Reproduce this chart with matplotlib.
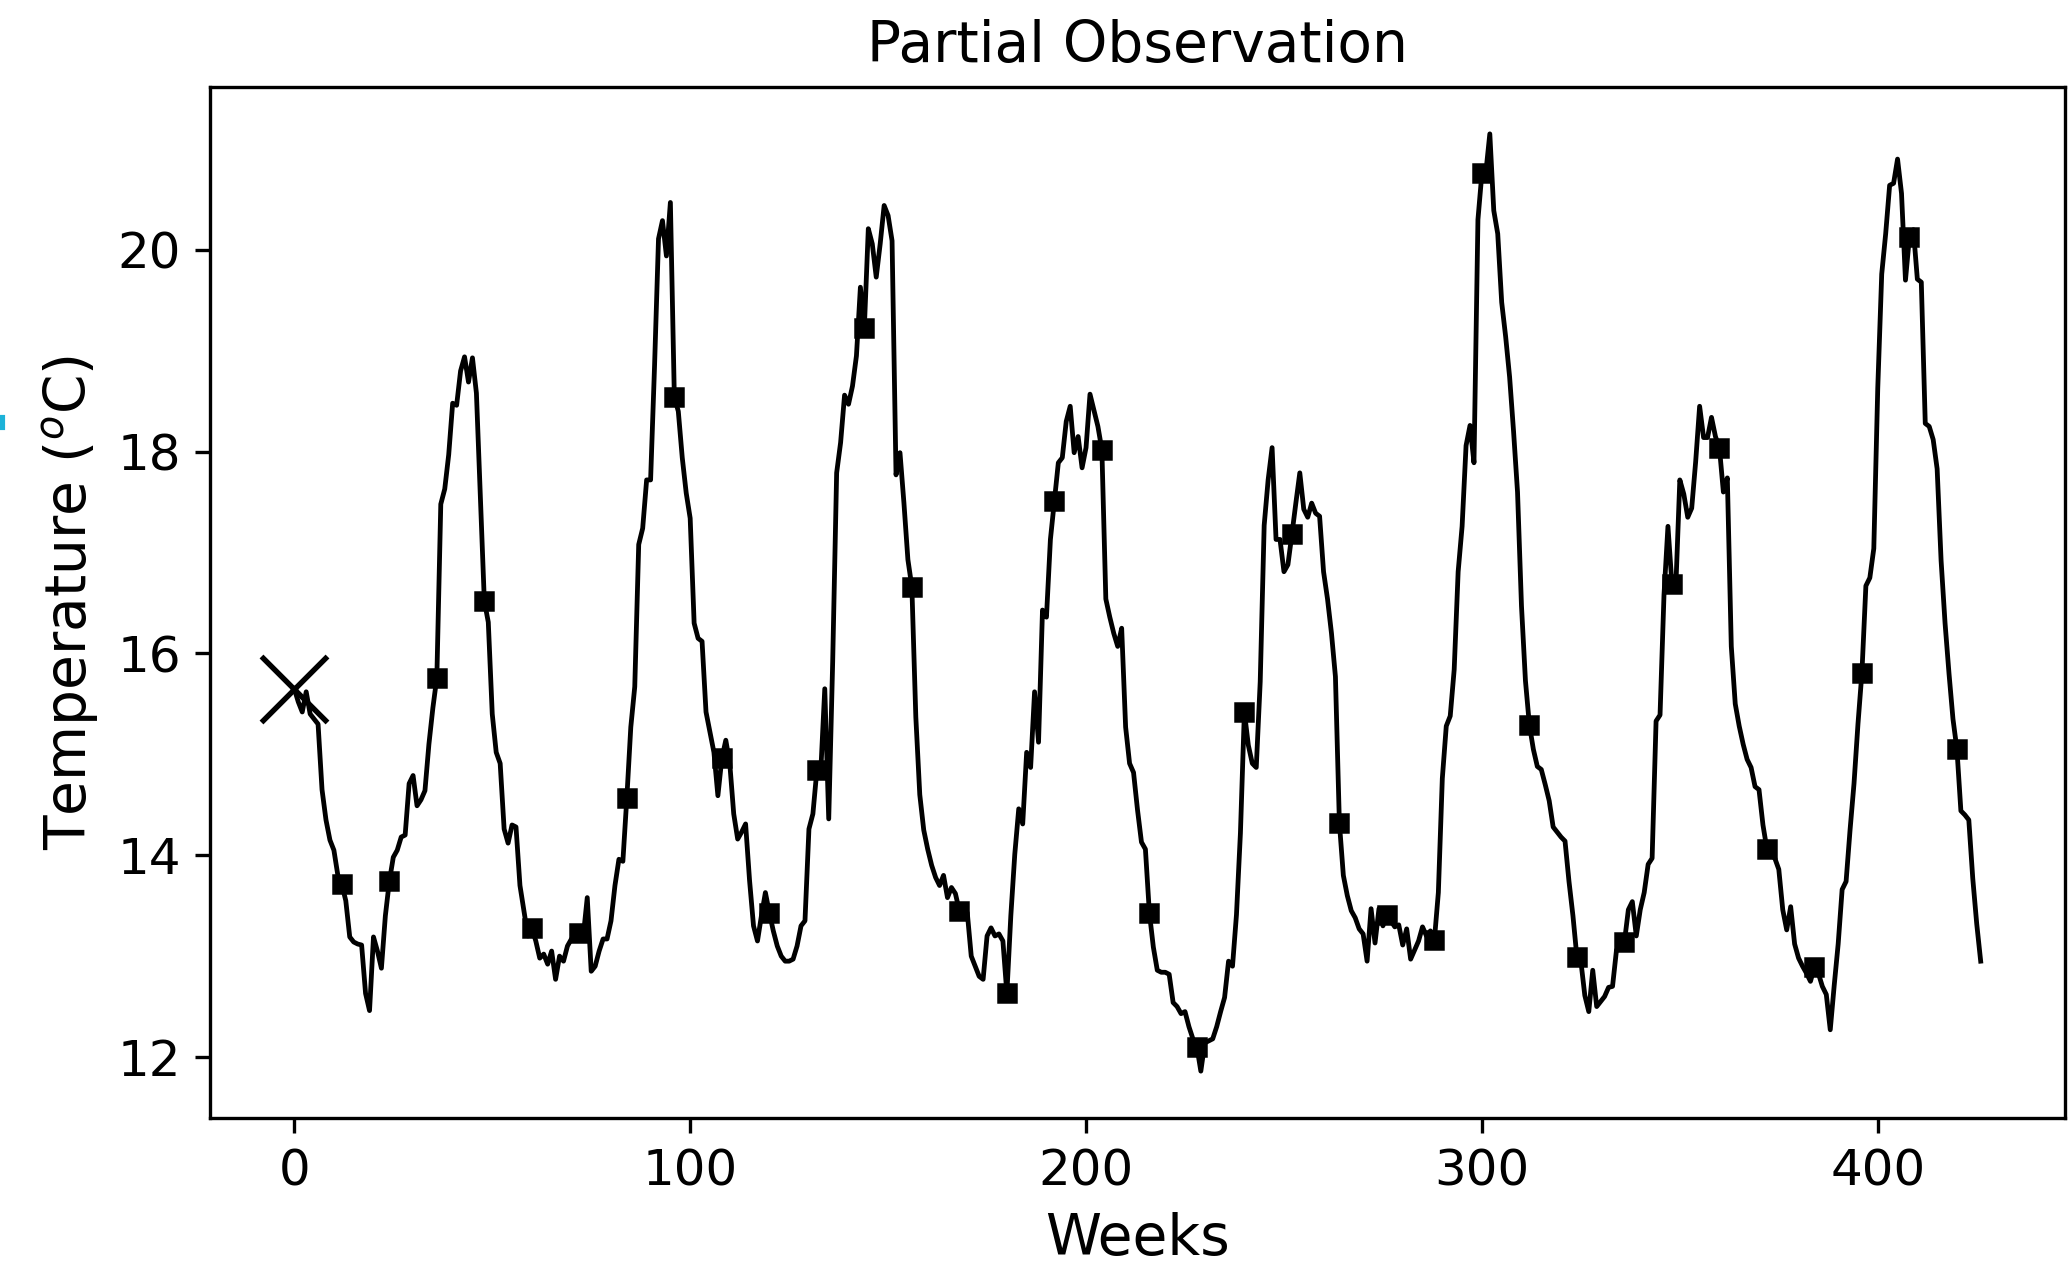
import numpy as np
import matplotlib
matplotlib.use("Agg")
import matplotlib.pyplot as plt
from matplotlib.patches import Rectangle

# Weekly temperature series (weeks 0..426)
temps = [
    15.65, 15.52, 15.42, 15.62, 15.40, 15.35, 15.30, 14.65, 14.35, 14.15, 14.05, 13.80,
    13.71, 13.55, 13.19, 13.14, 13.12, 13.11, 12.63, 12.46, 13.19, 13.05, 12.88, 13.40,
    13.74, 13.98, 14.05, 14.18, 14.20, 14.71, 14.79, 14.49, 14.55, 14.64, 15.10, 15.46,
    15.76, 17.48, 17.63, 17.97, 18.48, 18.46, 18.80, 18.94, 18.69, 18.93, 18.58, 17.55,
    16.52, 16.31, 15.40, 15.02, 14.91, 14.26, 14.12, 14.30, 14.28, 13.70, 13.45, 13.20,
    13.28, 13.15, 12.98, 13.02, 12.92, 13.05, 12.77, 13.00, 12.95, 13.10, 13.17, 13.20,
    13.23, 13.20, 13.58, 12.85, 12.90, 13.05, 13.17, 13.17, 13.35, 13.70, 13.96, 13.94,
    14.57, 15.27, 15.67, 17.08, 17.24, 17.72, 17.72, 18.85, 20.11, 20.29, 19.94, 20.47,
    18.54, 18.40, 17.94, 17.59, 17.34, 16.30, 16.15, 16.12, 15.42, 15.22, 15.02, 14.59,
    14.96, 15.14, 14.91, 14.41, 14.16, 14.23, 14.31, 13.75, 13.30, 13.15, 13.40, 13.63,
    13.43, 13.25, 13.10, 13.00, 12.95, 12.95, 12.97, 13.10, 13.30, 13.35, 14.26, 14.41,
    14.84, 14.84, 15.65, 14.36, 15.92, 17.79, 18.09, 18.56, 18.47, 18.65, 18.95, 19.63,
    19.23, 20.21, 20.06, 19.73, 20.06, 20.44, 20.34, 20.09, 17.77, 17.99, 17.49, 16.93,
    16.66, 15.37, 14.60, 14.25, 14.06, 13.90, 13.78, 13.70, 13.80, 13.58, 13.68, 13.62,
    13.45, 13.45, 13.43, 13.00, 12.90, 12.80, 12.77, 13.20, 13.28, 13.20, 13.22, 13.15,
    12.63, 13.40, 14.01, 14.46, 14.31, 15.02, 14.87, 15.62, 15.12, 16.43, 16.36, 17.13,
    17.51, 17.89, 17.94, 18.30, 18.45, 17.99, 18.15, 17.84, 18.04, 18.57, 18.41, 18.25,
    18.02, 16.54, 16.36, 16.20, 16.07, 16.25, 15.27, 14.91, 14.82, 14.45, 14.13, 14.06,
    13.43, 13.09, 12.86, 12.84, 12.84, 12.82, 12.54, 12.50, 12.43, 12.45, 12.30, 12.18,
    12.10, 11.86, 12.14, 12.16, 12.18, 12.30, 12.45, 12.59, 12.95, 12.90, 13.41, 14.22,
    15.42, 15.09, 14.91, 14.87, 15.72, 17.27, 17.72, 18.04, 17.13, 17.13, 16.81, 16.88,
    17.18, 17.49, 17.79, 17.43, 17.35, 17.49, 17.39, 17.36, 16.81, 16.54, 16.20, 15.77,
    14.32, 13.80, 13.60, 13.45, 13.38, 13.27, 13.22, 12.95, 13.47, 13.13, 13.47, 13.30,
    13.41, 13.35, 13.29, 13.31, 13.11, 13.27, 12.97, 13.06, 13.15, 13.29, 13.20, 13.25,
    13.16, 13.63, 14.76, 15.28, 15.38, 15.84, 16.81, 17.26, 18.06, 18.26, 17.89, 20.30,
    20.76, 20.77, 21.15, 20.39, 20.16, 19.48, 19.14, 18.74, 18.20, 17.60, 16.47, 15.73,
    15.29, 15.05, 14.88, 14.85, 14.70, 14.54, 14.28, 14.23, 14.18, 14.14, 13.74, 13.40,
    12.99, 12.95, 12.61, 12.45, 12.86, 12.50, 12.55, 12.60, 12.69, 12.70, 13.06, 13.10,
    13.14, 13.46, 13.54, 13.20, 13.46, 13.63, 13.91, 13.97, 15.33, 15.39, 16.58, 17.26,
    16.69, 16.67, 17.72, 17.58, 17.35, 17.44, 17.90, 18.45, 18.14, 18.14, 18.34, 18.15,
    18.04, 17.60, 17.74, 16.07, 15.50, 15.28, 15.10, 14.95, 14.87, 14.68, 14.65, 14.30,
    14.06, 14.00, 13.97, 13.86, 13.46, 13.26, 13.49, 13.12, 12.98, 12.90, 12.83, 12.75,
    12.89, 12.83, 12.70, 12.62, 12.27, 12.71, 13.12, 13.66, 13.74, 14.25, 14.71, 15.30,
    15.81, 16.67, 16.75, 17.04, 18.63, 19.76, 20.16, 20.64, 20.66, 20.90, 20.56, 19.70,
    20.13, 20.20, 19.71, 19.68, 18.28, 18.25, 18.12, 17.83, 16.92, 16.30, 15.80, 15.35,
    15.05, 14.44, 14.40, 14.35, 13.77, 13.32, 12.95,
]
weeks = list(range(len(temps)))

# Observed weeks (every 12 weeks) and the initial point
obs_weeks = list(range(12, len(temps), 12))
start_week = [0]

title = "Partial Observation"
xlabel = "Weeks"
ylabel = "Temperature ($^o$C)"
xticks = [0, 100, 200, 300, 400]
yticks = [12, 14, 16, 18, 20]

temps_arr = np.array(temps)

fig = plt.figure(figsize=(2069 / 300, 1277 / 300), dpi=300)
ax = fig.add_axes([210 / 2069, 1 - 1118 / 1277, (2065 - 210) / 2069, (1118 - 87) / 1277])

ax.plot(weeks, temps_arr, color="black", lw=1.15, zorder=2)
ax.plot(obs_weeks, temps_arr[obs_weeks], linestyle="none", marker="s",
        ms=4.2, mew=0.6, color="black", zorder=3)
ax.plot(start_week, temps_arr[start_week], linestyle="none", marker="x",
        ms=16, mew=1.3, color="black", zorder=3)

ax.set_xticks(xticks)
ax.set_yticks(yticks)
ax.tick_params(labelsize=12)
ax.set_title(title, fontsize=13.6)
ax.set_xlabel(xlabel, fontsize=13.6)
ax.set_ylabel(ylabel, fontsize=13.6)

# small cyan mark at the left edge of the reference image
fig.patches.append(Rectangle((0, 1 - 428 / 1277), 3 / 2069, 11 / 1277,
                             transform=fig.transFigure, color="#1cb2d8", zorder=5))

fig.savefig("out.png", dpi=300)
